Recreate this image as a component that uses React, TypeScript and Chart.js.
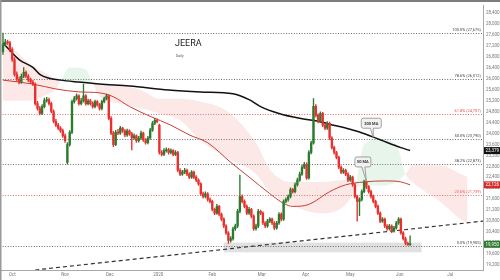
import { useEffect, useRef } from 'react';
import { Chart, registerables } from 'chart.js';
Chart.register(...registerables);

// ---- candle data (trading-day index 0..177) ----
const opens = [27000,27250,27350,27320,27070,26710,26170,25990,25890,26100,26240,26100,25960,25890,25810,25100,24920,24740,24990,25210,25240,25100,24810,24450,24310,24200,24100,23920,22950,23600,24050,25170,25280,25380,25100,25200,25380,25100,25200,25100,24990,25170,25060,24920,25170,25280,25380,24560,24020,23600,24050,24020,24200,24100,23950,24100,23990,23840,23920,23740,23840,24020,23770,23670,23840,24130,24380,24490,24300,23310,23240,23380,23420,23310,23380,23240,23310,22660,22520,22590,22660,22520,22410,22590,22410,22300,22160,21800,21700,21800,21590,21520,21230,21090,21340,21050,20870,20620,20370,20090,20160,20520,20620,21160,21700,21520,21340,21090,21230,20980,20520,20620,21160,21090,20730,20620,20800,20870,20730,20550,20730,21050,20870,21520,21590,21700,21950,21880,22130,22300,22520,22770,22880,22380,23310,23660,25000,24670,24450,24740,24310,24200,24380,23840,23490,23310,23130,22770,22590,22660,22520,22300,22410,22130,21700,21520,21590,21880,22230,22050,21880,21700,21520,21340,21090,20800,20870,20620,20520,20620,20440,20550,20730,20870,20370,20160,19990,19935];
const highs = [27675,27450,27420,27380,27150,26780,26260,26080,26180,26420,26300,26160,26030,25950,25860,25180,25000,25060,25300,25330,25300,25150,24870,24520,24380,24260,24170,23990,23670,24110,25230,25360,25460,25420,25290,25810,25430,25260,25250,25160,25230,25210,25110,25230,25340,25450,25420,24620,24080,24120,24160,24270,24240,24150,24170,24140,24050,23990,23960,23900,24090,24060,23820,23900,24190,24450,24560,24540,24350,23380,23450,23480,23460,23440,23420,23380,23350,22720,22660,22730,22700,22570,22650,22630,22460,22350,22210,21860,21870,21840,21650,21570,21280,21410,21380,21100,20920,20670,20420,20230,20580,20690,21230,22480,21760,21580,21390,21300,21270,21030,20690,21230,21200,21140,20780,20860,20930,20910,20780,20790,21110,21100,21580,21650,21760,22020,22000,22200,22370,22590,22840,22950,22930,23380,23730,25280,25060,24720,24800,24780,24360,24440,24420,23890,23540,23350,23180,22820,22720,22700,22570,22470,22450,22180,21750,21650,21940,22300,22280,22100,21930,21750,21570,21390,21140,20930,20910,20670,20680,20660,20610,20790,20930,20910,20420,20210,20030,20260];
const lows = [26900,27200,27260,27000,26640,26100,25920,25820,25840,26050,26040,25900,25830,25750,25040,24860,24680,24690,24940,25150,25040,24760,24390,24250,24140,24040,23860,23680,22880,23540,24000,25110,25220,25040,25050,25150,25040,25050,25040,24930,24940,25000,24860,24870,25120,25230,24500,23960,23520,23560,23960,23970,24040,23890,23900,23930,23400,23790,23680,23690,23790,23710,23610,23620,23790,24080,24330,24390,23250,23180,23190,23320,23250,23260,23180,23190,22600,22460,22470,22530,22460,22350,22360,22350,22240,22100,21740,21640,21650,21530,21460,21170,21030,21040,20990,20810,20560,20310,19980,20030,20100,20460,20560,21100,21460,21280,21030,21040,20920,20460,20470,20560,21030,20670,20560,20570,20740,20670,20490,20500,20680,20810,20820,21460,21530,21650,21820,21830,22080,22250,22470,22720,22320,22330,23260,23610,24610,24390,24400,24250,24140,24150,23780,23430,23250,23070,22710,22530,22540,22460,22240,22250,22070,21640,20800,21000,21540,21830,21990,21820,21640,21460,21280,21030,20740,20750,20560,20460,20470,20380,20390,20500,20680,20310,20100,19930,19905,19910];
const closes = [27250,27350,27320,27070,26710,26170,25990,25890,26100,26240,26100,25960,25890,25810,25100,24920,24740,24990,25210,25240,25100,24810,24450,24310,24200,24100,23920,23740,23600,24050,25170,25280,25380,25100,25200,25380,25100,25200,25100,24990,25170,25060,24920,25170,25280,25380,24560,24020,23600,24050,24020,24200,24100,23950,24100,23990,23840,23920,23740,23840,24020,23770,23670,23840,24130,24380,24490,24450,23310,23240,23380,23420,23310,23380,23240,23310,22660,22520,22590,22660,22520,22410,22590,22410,22300,22160,21800,21700,21800,21590,21520,21230,21090,21340,21050,20870,20620,20370,20090,20160,20520,20620,21160,21700,21520,21340,21090,21230,20980,20520,20620,21160,21090,20730,20620,20800,20870,20730,20550,20730,21050,20870,21520,21590,21700,21950,21880,22130,22300,22520,22770,22880,22380,23310,23660,25000,24670,24450,24740,24310,24200,24380,23840,23490,23310,23130,22770,22590,22660,22520,22300,22410,22130,21700,21520,21590,21880,22230,22050,21880,21700,21520,21340,21090,20800,20870,20620,20520,20620,20440,20550,20730,20870,20370,20160,19990,19935,19950];

// ---- moving averages (sampled) ----
const ma200Idx = [0,7,13,16,20,25,33,42,55,72,86,100,107,112,120,129,137,142,149,155,164,173,177];
const ma200Val = [27317,26708,26422,26171,26028,25957,25885,25813,25742,25600,25527,25455,25241,24990,24739,24560,24453,24346,24202,24059,23773,23486,23379];
const ma50Idx = [0,13,23,33,42,48,55,64,73,81,89,99,107,116,122,126,133,142,149,157,166,173,177];
const ma50Val = [25957,25813,25634,25527,25491,25348,24990,24632,24310,23952,23665,22949,22412,21804,21446,21338,21410,21875,22126,22233,22269,22233,22126];

// ---- ichimoku cloud spans (sampled) ----
const cloudIdx = [0,5,12,18,23,25,29,36,39,42,51,60,68,77,86,97,110,116,125,138,149,153,157,164,171,175,178,190,200,202];
const spanA = [25205,25205,25205,25384,25634,25885,26422,26350,25849,25348,25097,24918,24739,24489,23737,23128,22520,21875,21410,21088,21410,22019,23600,23800,23600,22520,22233,21517,20801,20729];
const spanB = [27353,27066,26529,26243,25992,25885,25885,25885,25849,25813,25742,25598,25276,25276,25169,24847,23665,22699,22233,22233,22305,22019,22126,22090,22233,22520,22842,22842,22484,22412];

// ---- fibonacci levels ----
const fibPct = ['100.0%','78.6%','61.8%','50.0%','38.2%','23.6%','0.0%'];
const fibVal = [27675,26012,24707,23790,22873,21739,19905];
const fibRed = [false,false,true,false,false,true,false];

// ---- trendline & support zone ----
const trendIdx = [14, 209];
const trendVal = [19011, 20801];
const zoneIdx = [96, 182];
const zoneVal = [19656, 20014];

// ---- axes ----
const monthIdx = [4,27,46.5,67.5,91,112.5,131.5,151,172.5,194.5];
const monthLabels = ['Oct','Nov','Dec','2020','Feb','Mar','Apr','May','Jun','Jul'];
const yTicks = [19200,19600,20000,20400,20800,21200,21600,22000,22400,22800,23200,23600,24000,24400,24800,25200,25600,26000,26400,26800,27200,27600,28000,28400];
const xRange = [-1.3, 208.7];
const yRange = [19010, 28680];

// ---- callouts ----
const callout200 = { label: '200 MA', i: 161, v: 23868 };
const callout50 = { label: '50 MA', i: 158, v: 22250 };

const GREEN = '#2b7a2e';
const RED = '#e8302f';
const fmt = (v: number) => Math.round(v).toLocaleString('en-US');

export default function App() {
  const ref = useRef<HTMLCanvasElement>(null);
  useEffect(() => {
    document.body.style.margin = '0';
    const canvas = ref.current!;
    Chart.defaults.font.family = 'Roboto';
    const idx = closes.map((_, i) => i);
    const colors = idx.map(i => (closes[i] >= opens[i] ? GREEN : RED));
    const wickData = idx.map(i => ({ x: i, y: [lows[i], highs[i]] }));
    const bodyData = idx.map(i => ({ x: i, y: [opens[i], closes[i]] }));
    const pts = (xs: number[], ys: number[]) => xs.map((x, k) => ({ x, y: ys[k] }));

    const overlay = {
      id: 'overlay',
      beforeDatasetsDraw(chart: any) {
        const { ctx, chartArea: ca, scales } = chart;
        const x = scales.x, y = scales.y;
        ctx.save();
        const zx0 = x.getPixelForValue(zoneIdx[0]);
        const zx1 = x.getPixelForValue(zoneIdx[1]);
        const zy0 = y.getPixelForValue(zoneVal[1]);
        const zy1 = y.getPixelForValue(zoneVal[0]);
        ctx.fillStyle = 'rgba(170,170,170,0.35)';
        ctx.fillRect(zx0, zy0, zx1 - zx0, zy1 - zy0);
        fibVal.forEach((v, k) => {
          const py = Math.round(y.getPixelForValue(v)) + 0.5;
          ctx.strokeStyle = fibRed[k] ? 'rgba(225,90,90,0.9)' : '#6a6a6a';
          ctx.lineWidth = 1;
          ctx.setLineDash([1, 1.6]);
          ctx.beginPath();
          ctx.moveTo(ca.left, py);
          ctx.lineTo(ca.right, py);
          ctx.stroke();
          ctx.setLineDash([]);
          ctx.fillStyle = fibRed[k] ? '#e05555' : '#444';
          ctx.font = '4px Roboto';
          ctx.textAlign = 'right';
          ctx.textBaseline = 'bottom';
          ctx.fillText(`${fibPct[k]} (${fmt(v)})`, ca.right - 2, py - 1.5);
        });
        ctx.restore();
      },
      afterDraw(chart: any) {
        const { ctx, chartArea: ca, scales } = chart;
        const x = scales.x, y = scales.y;
        ctx.save();
        ctx.fillStyle = '#222';
        ctx.font = '9px Roboto';
        ctx.textAlign = 'left';
        ctx.textBaseline = 'alphabetic';
        ctx.fillText('JEERA', 175, 46);
        ctx.fillStyle = '#555';
        ctx.font = '3.5px Roboto';
        ctx.fillText('Daily', 176, 57);
        const drawCallout = (c: any, dx: number, dy: number, w: number, h: number) => {
          const tx = x.getPixelForValue(c.i), ty = y.getPixelForValue(c.v);
          const cx = tx + dx, cy = ty + dy;
          const bx = cx - w / 2, by = cy - h / 2;
          ctx.fillStyle = '#f2f2f2';
          ctx.strokeStyle = '#8a8a8a';
          ctx.lineWidth = 0.8;
          ctx.beginPath();
          const r = 2;
          ctx.moveTo(bx + r, by);
          ctx.lineTo(bx + w - r, by);
          ctx.quadraticCurveTo(bx + w, by, bx + w, by + r);
          ctx.lineTo(bx + w, by + h - r);
          ctx.quadraticCurveTo(bx + w, by + h, bx + w - r, by + h);
          ctx.lineTo(cx + 2, by + h);
          ctx.lineTo(tx, ty);
          ctx.lineTo(cx - 1, by + h);
          ctx.lineTo(bx + r, by + h);
          ctx.quadraticCurveTo(bx, by + h, bx, by + h - r);
          ctx.lineTo(bx, by + r);
          ctx.quadraticCurveTo(bx, by, bx + r, by);
          ctx.closePath();
          ctx.fill();
          ctx.stroke();
          ctx.fillStyle = '#333';
          ctx.font = 'bold 4px Roboto';
          ctx.textAlign = 'center';
          ctx.textBaseline = 'middle';
          ctx.fillText(c.label, cx, cy + 0.3);
        };
        drawCallout(callout200, -2, -14, 20, 10);
        drawCallout(callout50, -3.5, -19.5, 16, 10);
        const tags = [
          { v: ma200Val[ma200Val.length - 1], bg: '#111' },
          { v: ma50Val[ma50Val.length - 1], bg: '#d42a2a' },
          { v: closes[closes.length - 1], bg: '#2b7a2e' },
        ];
        tags.forEach(t => {
          const py = y.getPixelForValue(t.v);
          ctx.fillStyle = t.bg;
          ctx.fillRect(ca.right + 1, py - 3.5, 16, 7);
          ctx.fillStyle = '#fff';
          ctx.font = '4.5px Roboto';
          ctx.textAlign = 'left';
          ctx.textBaseline = 'middle';
          ctx.fillText(fmt(t.v), ca.right + 2.5, py + 0.3);
        });
        ctx.fillStyle = '#7d7d7d';
        ctx.fillRect(0, 0, 500, 2);
        ctx.fillStyle = '#9a9a9a';
        ctx.fillRect(0, 0, 1.5, 280);
        ctx.restore();
      },
    };

    const chart = new Chart(canvas, {
      type: 'bar',
      data: {
        datasets: [
          {
            type: 'line', data: pts(cloudIdx, spanA), borderWidth: 0, borderColor: 'transparent',
            pointRadius: 0, cubicInterpolationMode: 'monotone', order: 30,
            fill: { target: '+1', above: 'rgba(120,195,130,0.17)', below: 'rgba(245,125,125,0.18)' },
          } as any,
          {
            type: 'line', data: pts(cloudIdx, spanB), borderWidth: 0, borderColor: 'transparent',
            pointRadius: 0, cubicInterpolationMode: 'monotone', order: 31, fill: false,
          } as any,
          {
            type: 'line', data: pts(trendIdx, trendVal), borderColor: '#333', borderWidth: 1.2,
            borderDash: [4, 3], pointRadius: 0, order: 20,
          } as any,
          {
            type: 'line', data: pts(ma200Idx, ma200Val), borderColor: '#111', borderWidth: 1.5,
            pointRadius: 0, cubicInterpolationMode: 'monotone', order: 5,
          } as any,
          {
            type: 'line', data: pts(ma50Idx, ma50Val), borderColor: '#c93d35', borderWidth: 1,
            pointRadius: 0, cubicInterpolationMode: 'monotone', order: 6,
          } as any,
          {
            type: 'bar', data: wickData as any, backgroundColor: colors, barThickness: 0.7,
            grouped: false, order: 2, borderWidth: 0,
          } as any,
          {
            type: 'bar', data: bodyData as any, backgroundColor: colors, barThickness: 1.7,
            grouped: false, order: 1, borderWidth: 0, minBarLength: 1,
          } as any,
        ],
      },
      options: {
        animation: false,
        responsive: false,
        devicePixelRatio: 1,
        events: [],
        layout: { padding: 0 },
        plugins: { legend: { display: false }, tooltip: { enabled: false } },
        scales: {
          x: {
            type: 'linear', min: xRange[0], max: xRange[1], offset: false,
            grid: { display: false, drawTicks: false },
            border: { display: true, color: '#a8a8a8' },
            afterBuildTicks: (s: any) => { s.ticks = monthIdx.map(v => ({ value: v })); },
            afterFit: (s: any) => { s.height = 10; },
            ticks: {
              autoSkip: false, maxRotation: 0, padding: 2,
              font: { size: 4.5 }, color: '#777',
              callback: (v: any) => { const k = monthIdx.indexOf(Number(v)); return k >= 0 ? monthLabels[k] : ''; },
            },
          },
          y: {
            type: 'linear', position: 'right', min: yRange[0], max: yRange[1],
            grid: { display: false, drawTicks: false },
            border: { display: true, color: '#a8a8a8' },
            afterBuildTicks: (s: any) => { s.ticks = yTicks.map(v => ({ value: v })); },
            afterFit: (s: any) => { s.width = 17; },
            ticks: { padding: 3, font: { size: 4.5 }, color: '#777', callback: (v: any) => fmt(Number(v)) },
          },
        },
      } as any,
      plugins: [overlay],
    });
    return () => chart.destroy();
  }, []);
  return (
    <div style={{ width: 500, height: 280, position: 'relative', background: '#fff' }}>
      <canvas ref={ref} width={500} height={280} style={{ display: 'block' }} />
    </div>
  );
}
